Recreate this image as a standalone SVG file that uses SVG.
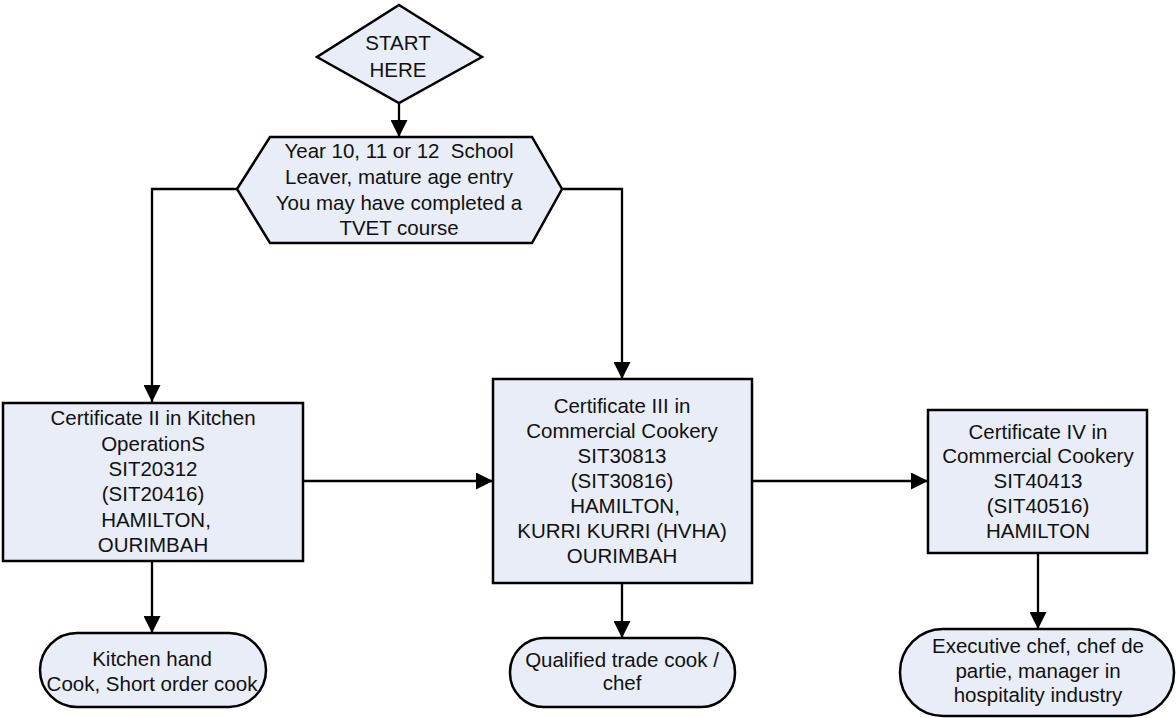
<svg xmlns="http://www.w3.org/2000/svg" width="1176" height="718" viewBox="0 0 1176 718">
<defs>
<style>
.n{fill:#E8EDF7;stroke:#000;stroke-width:2.5}
.t{font-family:"Liberation Sans",Arial,sans-serif;font-size:20.5px;fill:#111;text-anchor:middle}
.c{fill:none;stroke:#000;stroke-width:2.3}
</style>
<marker id="ah" markerUnits="userSpaceOnUse" markerWidth="17" markerHeight="17" refX="17" refY="8.5" orient="auto" viewBox="0 0 17 17">
<path d="M0,0 L17,8.5 L0,17 z" fill="#000"/>
</marker>
</defs>
<rect width="1176" height="718" fill="#fff"/>
<g id="connectors">
<path class="c" d="M399,103 V137" marker-end="url(#ah)"/>
<path class="c" d="M237,189 H152 V402" marker-end="url(#ah)"/>
<path class="c" d="M562,189 H622 V379" marker-end="url(#ah)"/>
<path class="c" d="M303,481 H493" marker-end="url(#ah)"/>
<path class="c" d="M752,481 H928" marker-end="url(#ah)"/>
<path class="c" d="M152,561 V633" marker-end="url(#ah)"/>
<path class="c" d="M622,583 V638" marker-end="url(#ah)"/>
<path class="c" d="M1038,553 V629" marker-end="url(#ah)"/>
</g>
<g id="start">
<polygon class="n" points="399,5 482,57 399,103 317,57"/>
<text class="t" x="398" y="50">START</text>
<text class="t" x="398" y="77">HERE</text>
</g>
<g id="entry">
<polygon class="n" points="270,137 532,137 562,189 532,243 270,243 237,189"/>
<text class="t" x="399" y="158">Year 10, 11 or 12&#160; School</text>
<text class="t" x="399" y="184">Leaver, mature age entry</text>
<text class="t" x="399" y="210">You may have completed a</text>
<text class="t" x="399" y="235">TVET course</text>
</g>
<g id="cert2">
<rect class="n" x="3" y="403" width="300" height="158"/>
<text class="t" x="153" y="425">Certificate II in Kitchen</text>
<text class="t" x="153" y="451">OperationS</text>
<text class="t" x="153" y="476">SIT20312</text>
<text class="t" x="153" y="501">(SIT20416)</text>
<text class="t" x="156" y="527">HAMILTON,</text>
<text class="t" x="153" y="552">OURIMBAH</text>
</g>
<g id="cert3">
<rect class="n" x="493" y="379" width="259" height="204"/>
<text class="t" x="622" y="413">Certificate III in</text>
<text class="t" x="622" y="438">Commercial Cookery</text>
<text class="t" x="622" y="463">SIT30813</text>
<text class="t" x="622" y="488">(SIT30816)</text>
<text class="t" x="625" y="513">HAMILTON,</text>
<text class="t" x="622" y="538">KURRI KURRI (HVHA)</text>
<text class="t" x="622" y="563">OURIMBAH</text>
</g>
<g id="cert4">
<rect class="n" x="928" y="410" width="219" height="143"/>
<text class="t" x="1038" y="439">Certificate IV in</text>
<text class="t" x="1038" y="463">Commercial Cookery</text>
<text class="t" x="1038" y="488">SIT40413</text>
<text class="t" x="1038" y="513">(SIT40516)</text>
<text class="t" x="1038" y="538">HAMILTON</text>
</g>
<g id="out2">
<rect class="n" x="40" y="633" width="226" height="74" rx="37" ry="37"/>
<text class="t" x="152" y="666">Kitchen hand</text>
<text class="t" x="152" y="691">Cook, Short order cook</text>
</g>
<g id="out3">
<rect class="n" x="510" y="638" width="225" height="69" rx="34" ry="34"/>
<text class="t" x="622" y="667">Qualified trade cook /</text>
<text class="t" x="622" y="690">chef</text>
</g>
<g id="out4">
<rect class="n" x="900" y="629" width="274" height="87" rx="43" ry="43"/>
<text class="t" x="1038" y="653">Executive chef, chef de</text>
<text class="t" x="1038" y="678">partie, manager in</text>
<text class="t" x="1038" y="702">hospitality industry</text>
</g>
</svg>
